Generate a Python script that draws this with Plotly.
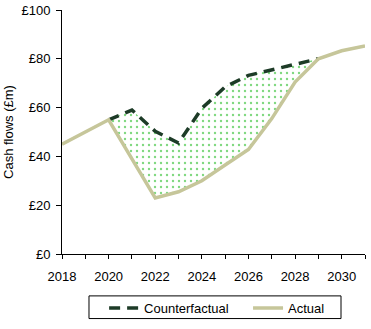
import plotly.graph_objects as go

# Annual cash flows, £m
years = list(range(2018, 2032))
actual = [45, 50, 55, 39, 23, 25.5, 30, 36.5, 42.8, 55.5, 70.5, 80, 83.3, 85.3]

cf_years = list(range(2020, 2030))
counterfactual = [55, 59, 50.3, 45.5, 59.7, 68.5, 73.2, 75.5, 78, 80]

# Actual values over the counterfactual window, used as the lower edge of the shaded gap
actual_window = [actual[years.index(y)] for y in cf_years]

tick_years = list(range(2018, 2032))
tick_labels = [str(y) if y % 2 == 0 else "" for y in tick_years]

DARK_GREEN = "#1D3B27"
KHAKI = "#C6C69A"
DOT_GREEN = "#00B000"

fig = go.Figure()

# Upper edge of the shaded gap (no visible line)
fig.add_trace(go.Scatter(
    x=cf_years, y=counterfactual, mode="lines",
    line=dict(width=0, color="rgba(0,0,0,0)"),
    showlegend=False, hoverinfo="skip",
))
# Dotted fill between counterfactual and actual
fig.add_trace(go.Scatter(
    x=cf_years, y=actual_window, mode="lines",
    line=dict(width=0, color="rgba(0,0,0,0)"),
    fill="tonexty", fillcolor="rgba(0,0,0,0)",
    fillpattern=dict(shape=".", fgcolor=DOT_GREEN, bgcolor="white",
                     size=6, solidity=0.12),
    showlegend=False, hoverinfo="skip",
))
fig.add_trace(go.Scatter(
    x=cf_years, y=counterfactual, mode="lines", name="Counterfactual",
    line=dict(color=DARK_GREEN, width=3.5, dash="11px,7px"),
    legend="legend",
))
fig.add_trace(go.Scatter(
    x=years, y=actual, mode="lines", name="Actual",
    line=dict(color=KHAKI, width=3.5),
    legend="legend2",
))

legend_style = dict(
    orientation="h", yanchor="middle", y=-0.222, xanchor="left",
    borderwidth=0, bgcolor="rgba(0,0,0,0)", font=dict(size=13),
)

fig.update_layout(
    width=371, height=329,
    margin=dict(l=62, r=6, t=10, b=71),
    paper_bgcolor="white", plot_bgcolor="white",
    font=dict(family="Liberation Sans, Arial, sans-serif", size=13, color="black"),
    showlegend=True,
    legend=dict(x=0.139, **legend_style),
    legend2=dict(x=0.614, **legend_style),
    # Frame around the legend entries
    shapes=[dict(
        type="rect", xref="paper", yref="paper",
        x0=0.0891, x1=0.9208, y0=-0.2646, y1=-0.1717,
        line=dict(color="black", width=1), fillcolor="rgba(0,0,0,0)",
        layer="below",
    )],
)
fig.update_xaxes(
    range=[2018, 2031], tickmode="array", tickvals=tick_years, ticktext=tick_labels,
    showgrid=False, zeroline=False, showline=True, linecolor="black", linewidth=1,
    ticks="outside", ticklen=4, tickcolor="black", tickfont=dict(size=13),
    ticklabelstandoff=6, automargin=False,
)
fig.update_yaxes(
    range=[0, 100], dtick=20, tickprefix="£",
    showgrid=False, zeroline=False, showline=True, linecolor="black", linewidth=1,
    ticks="outside", ticklen=5, tickcolor="black", tickfont=dict(size=13),
    ticklabelstandoff=3,
    title=dict(text="Cash flows (£m)", font=dict(size=13), standoff=4),
    automargin=False,
)

fig.write_html("out.html")
